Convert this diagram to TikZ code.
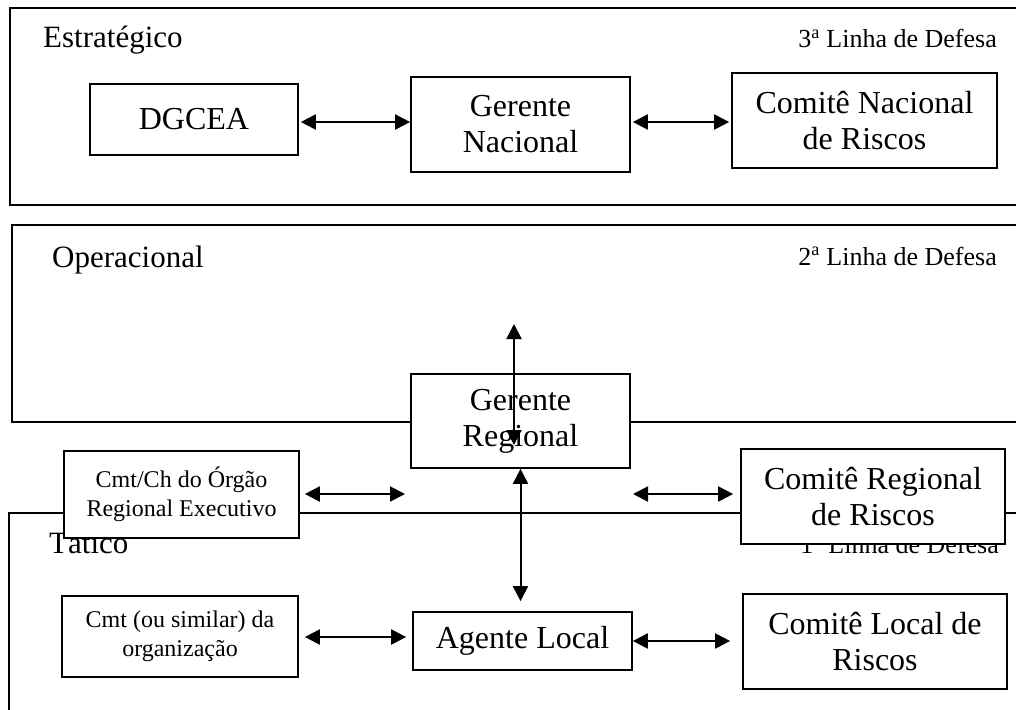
\documentclass[tikz,border=0pt]{standalone}
\usepackage{fontspec}
\setmainfont{Liberation Serif}
\usetikzlibrary{arrows.meta}

\tikzset{
  frameline/.style={line width=1.9pt},
  box/.style={draw, line width=1.7pt, fill=white, align=center, inner sep=0pt},
  bigtext/.style={font=\fontsize{32}{36}\selectfont},
  smalltext/.style={font=\fontsize{24}{29}\selectfont},
  levellabel/.style={inner sep=0pt, font=\fontsize{31}{36}\selectfont},
  linelabel/.style={inner sep=0pt, font=\fontsize{26}{30}\selectfont},
  link/.style={line width=2pt, {Triangle[length=15pt,width=15pt]}-{Triangle[length=15pt,width=15pt]}},
}

% box given by corners (x1,y1) (x2,y2) in pixel-like units
\newcommand{\boxnode}[7]{%
  \node[box,#2, minimum width={(#5-#3)*1pt}, minimum height={(#6-#4)*1pt}]
    (#1) at ({(#3+#5)/2},{(#4+#6)/2}) {#7};}

\begin{document}
\begin{tikzpicture}[x=1pt,y=-1pt]
  \useasboundingbox (0,0) rectangle (1016,709);
  \fill[white] (0,0) rectangle (1016,709);
  \clip (0,0) rectangle (1016,709);

  % level frames
  \draw[frameline] (10,8) rectangle (1040,205);
  \draw[frameline] (12,225) rectangle (1040,422);
  \draw[frameline] (9,513) rectangle (1040,760);

  % level labels
  \node[levellabel, anchor=base west] (lvlE) at (43,48) {Estratégico};
  \node[linelabel, anchor=base east] (defE) at (997,48) {3\textsuperscript{a} Linha de Defesa};
  \node[levellabel, anchor=base west] (lvlO) at (52,267) {Operacional};
  \node[linelabel, anchor=base east] (defO) at (997,265) {2\textsuperscript{a} Linha de Defesa};
  \node[levellabel, anchor=base west] (lvlT) at (49,553) {Tático};
  \node[linelabel, anchor=base east] (defT) at (999,553) {1\textsuperscript{a} Linha de Defesa};

  % strategic level
  \boxnode{dgcea}{bigtext}{90}{84}{298}{155}{DGCEA}
  \boxnode{gn}{bigtext}{411}{77}{630}{172}{Gerente\\Nacional}
  \boxnode{cnr}{bigtext}{732}{73}{997}{168}{Comitê Nacional\\de Riscos}

  % operational level
  \boxnode{gr}{bigtext}{411}{374}{630}{468}{Gerente\\Regional}
  \boxnode{cmtch}{smalltext}{64}{451}{299}{538}{Cmt/Ch do Órgão\\Regional Executivo}
  \boxnode{crr}{bigtext}{741}{449}{1005}{544}{Comitê Regional\\de Riscos}

  % tactical level
  \boxnode{cmt}{smalltext}{62}{596}{298}{677}{Cmt (ou similar) da\\organização}
  \boxnode{al}{bigtext}{413}{612}{632}{670}{Agente Local}
  \boxnode{clr}{bigtext}{743}{594}{1007}{689}{Comitê Local de\\Riscos}

  % free arrow ends
  \coordinate (opTop) at (514,324);
  \coordinate (grIn) at (514,445);
  \coordinate (midL) at (405,494);
  \coordinate (midR) at (633,494);

  % connectors
  \draw[link, shorten <=2pt] (dgcea.east |- 0,122) -- (gn.west |- 0,122);
  \draw[link, shorten <=2pt, shorten >=2pt] (gn.east |- 0,122) -- (cnr.west |- 0,122);
  \draw[link] (opTop) -- (grIn);
  \draw[link, shorten <=5pt] (cmtch.east |- midL) -- (midL);
  \draw[link, shorten >=7pt] (midR) -- (crr.west |- midR);
  \draw[link, shorten >=10pt] (gr.south) -- (gr.south |- al.north);
  \draw[link, shorten <=6pt, shorten >=6pt] (cmt.east |- 0,637) -- (al.west |- 0,637);
  \draw[link, shorten >=12pt] (al.east |- 0,641) -- (clr.west |- 0,641);
\end{tikzpicture}
\end{document}
